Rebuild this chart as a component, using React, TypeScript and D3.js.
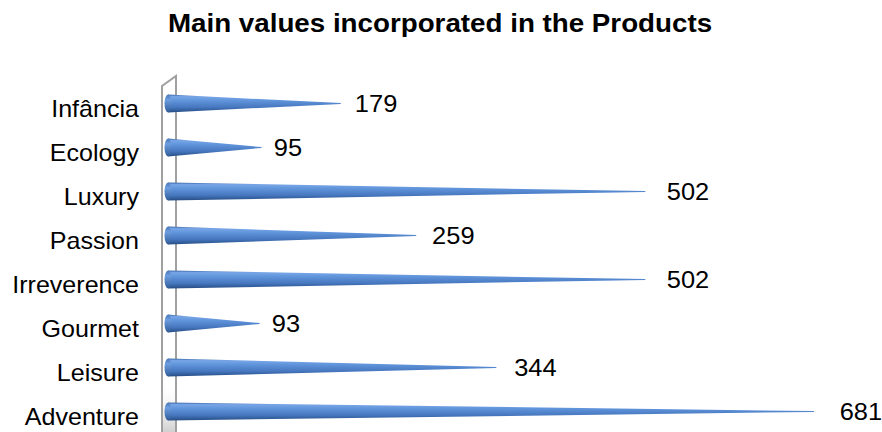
import React from "react";
import * as d3 from "d3";

const categories = ["Infância", "Ecology", "Luxury", "Passion", "Irreverence", "Gourmet", "Leisure", "Adventure"];
const values = [179, 95, 502, 259, 502, 93, 344, 681];
const titleText = "Main values incorporated in the Products";

const W = 882;
const H = 432;
const FONT = "'Liberation Sans', Arial, sans-serif";

export default function App() {
  const x = d3.scaleLinear().domain([0, 700]).range([172, 832]);
  const xLabel = d3.scaleLinear().domain([0, 700]).range([182, 858]);
  const y = d3.scalePoint<string>().domain(categories).range([103.5, 411.5]);
  const baseX = 168;
  const half = 9;

  const coneLine = d3.line<[number, number]>().curve(d3.curveLinearClosed);

  return (
    <svg width={W} height={H} style={{ position: "absolute", left: 0, top: 0, background: "#fff" }}>
      <defs>
        <linearGradient id="coneGrad" x1="0" y1="0" x2="0" y2="1">
          <stop offset="0%" stopColor="#3b68a6" />
          <stop offset="12%" stopColor="#78a6e8" />
          <stop offset="35%" stopColor="#5f93da" />
          <stop offset="70%" stopColor="#4778c0" />
          <stop offset="100%" stopColor="#264d85" />
        </linearGradient>
        <linearGradient id="capGrad" x1="0" y1="0" x2="0" y2="1">
          <stop offset="0%" stopColor="#4a78b8" />
          <stop offset="30%" stopColor="#6d9de0" />
          <stop offset="100%" stopColor="#2f5a96" />
        </linearGradient>
        <linearGradient id="wallGrad" gradientUnits="userSpaceOnUse" x1="0" y1="380" x2="0" y2={H}>
          <stop offset="0%" stopColor="#ffffff" stopOpacity="0" />
          <stop offset="100%" stopColor="#d0d0d0" stopOpacity="1" />
        </linearGradient>
      </defs>

      {/* title */}
      <text
        transform={`translate(440, 32) scale(1.11, 1)`}
        textAnchor="middle"
        fontFamily={FONT}
        fontWeight="bold"
        fontSize={25}
        fill="#000"
      >
        {titleText}
      </text>

      {/* 3D wall */}
      <path d={`M162,380 L176,380 L176,${H} L162,${H} Z`} fill="url(#wallGrad)" stroke="none" />
      <path d={`M162,${H} L162,86 L176,76 L176,${H}`} fill="none" stroke="#a0a0a0" strokeWidth={2} />

      {/* cones */}
      {categories.map((c, i) => {
        const cy = y(c)!;
        const tip = x(values[i]);
        const pts: [number, number][] = [
          [baseX, cy - half],
          [tip, cy - 0.4],
          [tip, cy + 0.4],
          [baseX, cy + half],
        ];
        return (
          <g key={c}>
            <path d={coneLine(pts)!} fill="url(#coneGrad)" />
            <ellipse cx={baseX} cy={cy} rx={3.5} ry={half} fill="url(#capGrad)" />
          </g>
        );
      })}

      {/* category labels */}
      {categories.map((c) => (
        <text
          key={"l" + c}
          transform={`translate(139, ${y(c)! + 13.5}) scale(1.09, 1)`}
          textAnchor="end"
          fontFamily={FONT}
          fontSize={23}
          fill="#000"
        >
          {c}
        </text>
      ))}

      {/* value labels */}
      {categories.map((c, i) => (
        <text
          key={"v" + c}
          transform={`translate(${xLabel(values[i])}, ${y(c)! + 8.5}) scale(1.06, 1)`}
          textAnchor="start"
          fontFamily={FONT}
          fontSize={24}
          fill="#000"
        >
          {values[i]}
        </text>
      ))}
    </svg>
  );
}
